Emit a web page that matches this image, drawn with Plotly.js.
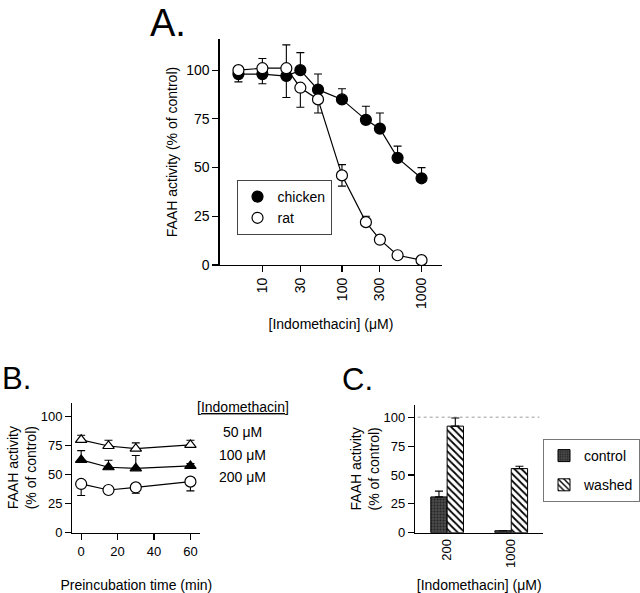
<!DOCTYPE html>
<html>
<head>
<meta charset="utf-8">
<script src="https://cdn.plot.ly/plotly-3.0.1.min.js"></script>
<style>
  html, body { margin: 0; padding: 0; background: #fff; }
  #plot { width: 640px; height: 593px; }
</style>
</head>
<body>
<div id="plot"></div>
<script>
// Panel A: concentration response (log x)
var concA = [5, 10, 20, 30, 50, 100, 200, 300, 500, 1000];
var chicken = [98, 98, 97, 100, 90, 85, 74.5, 70, 55, 44.5];
var chickenErrUp = [0, 0, 0, 9, 8, 5.5, 7, 8, 6, 5.5];
var chickenErrDown = [4, 5, 11, 0, 0, 0, 0, 0, 0, 0];
var rat = [100, 101, 101, 91, 85, 46, 22, 13, 5, 2.5];
var ratErrUp = [0, 5, 12, 0, 0, 5.5, 3, 0, 0, 0];
var ratErrDown = [0, 0, 0, 10, 7, 5.5, 0, 0, 0, 0];
var concTicks = [10, 30, 100, 300, 1000];

// Panel B: preincubation time course
var timeB = [0, 15, 30, 60];
var b50 = [80, 74.7, 72.4, 75.6];
var b50Err = [4, 5, 5, 4];
var b100 = [62.7, 56.4, 55.5, 57.5];
var b100Err = [8, 6, 11, 2];
var b200 = [42, 36.8, 39, 44];
var b200Err = [10, 0, 5, 8];
var timeTicks = [0, 20, 40, 60];

// Panel C: washout
var concC = ["200", "1000"];
var control = [31, 1.7];
var controlErr = [5, 0];
var washed = [92.3, 55.5];
var washedErr = [7, 2];
var controlLevel = 100;

var pctTicks = [0, 25, 50, 75, 100];
var fontName = "Liberation Sans, Arial, sans-serif";

function errBar(up, down) {
    return {
        type: "data", symmetric: false, array: up, arrayminus: down,
        color: "black", thickness: 1.1, width: 4,
    };
}

function lineTrace(x, y, err, sym, fill, xa, ya, size) {
    return {
        x: x, y: y, xaxis: xa, yaxis: ya,
        mode: "lines+markers", type: "scatter", showlegend: false,
        line: { color: "black", width: 1.2 },
        marker: { symbol: sym, size: size, color: fill, line: { color: "black", width: 1.2 } },
        error_y: err,
        cliponaxis: false,
    };
}

var zeros4 = [0, 0, 0, 0];

var data = [
    lineTrace(concA, chicken, errBar(chickenErrUp, chickenErrDown), "circle", "black", "x", "y", 11),
    lineTrace(concA, rat, errBar(ratErrUp, ratErrDown), "circle", "white", "x", "y", 11),
    // legend entries for A (markers only)
    { x: [null], y: [null], mode: "markers", type: "scatter", name: "chicken", legend: "legend",
      legendgroup: "ch", marker: { symbol: "circle", size: 11, color: "black", line: { color: "black", width: 1.2 } } },
    { x: [null], y: [null], mode: "markers", type: "scatter", name: "rat", legend: "legend",
      legendgroup: "rt", marker: { symbol: "circle", size: 11, color: "white", line: { color: "black", width: 1.2 } } },

    lineTrace(timeB, b50, errBar(b50Err, zeros4), "triangle-up", "white", "x2", "y2", 10),
    lineTrace(timeB, b100, errBar(b100Err, zeros4), "triangle-up", "black", "x2", "y2", 10),
    lineTrace(timeB, b200, errBar(zeros4, b200Err), "circle", "white", "x2", "y2", 11),

    {
        x: concC, y: control, type: "bar", name: "control", xaxis: "x3", yaxis: "y3",
        legend: "legend2", legendgroup: "ctl",
        marker: { color: "#3d3d3d", line: { color: "black", width: 1 },
                  pattern: { shape: ".", fgcolor: "#222", bgcolor: "#4a4a4a", size: 3, solidity: 0.3 } },
        error_y: { type: "data", symmetric: false, array: controlErr, arrayminus: [0, 0],
                   color: "black", thickness: 1.1, width: 4 },
    },
    {
        x: concC, y: washed, type: "bar", name: "washed", xaxis: "x3", yaxis: "y3",
        legend: "legend2", legendgroup: "wsh",
        marker: { color: "white", line: { color: "black", width: 1 },
                  pattern: { shape: "\\", fgcolor: "black", bgcolor: "white", size: 5, solidity: 0.35 } },
        error_y: { type: "data", symmetric: false, array: washedErr, arrayminus: [0, 0],
                   color: "black", thickness: 1.1, width: 4 },
    },
];

function axStyle(extra) {
    var base = {
        showline: true, linecolor: "black", linewidth: 1.2,
        ticks: "outside", ticklen: 6, tickcolor: "black", tickwidth: 1.1,
        showgrid: false, zeroline: false, fixedrange: true,
        tickfont: { family: fontName, size: 13, color: "black" },
    };
    return Object.assign(base, extra);
}

var titleFont = { family: fontName, size: 14, color: "black" };

var layout = {
    width: 640, height: 593,
    margin: { l: 0, r: 0, t: 0, b: 0 },
    paper_bgcolor: "white", plot_bgcolor: "white",
    font: { family: fontName, color: "black" },
    barmode: "group", bargap: 0.49, bargroupgap: 0,

    xaxis: axStyle({
        type: "log", domain: [221 / 640, 445 / 640], anchor: "y",
        range: [Math.log10(2.9), Math.log10(1820)],
        tickvals: concTicks, ticktext: concTicks.map(String), tickangle: -90,
        tickfont: { family: fontName, size: 14, color: "black" },
        title: { text: "[Indomethacin] (μM)", font: titleFont, standoff: 11 },
    }),
    yaxis: axStyle({
        domain: [1 - 265 / 593, 1 - 39 / 593], anchor: "x",
        range: [0, 116], tickvals: pctTicks,
        tickfont: { family: fontName, size: 14, color: "black" },
        title: { text: "FAAH activity (% of control)", font: titleFont, standoff: 5 },
    }),

    xaxis2: axStyle({
        domain: [72.7 / 640, 201.7 / 640], anchor: "y2",
        range: [-4.9, 65.5], tickvals: timeTicks,
        title: { text: "Preincubation time (min)", font: titleFont, standoff: 25 },
    }),
    yaxis2: axStyle({
        domain: [1 - 532.7 / 593, 1 - 402.7 / 593], anchor: "x2",
        range: [0, 112], tickvals: pctTicks,
        title: { text: "FAAH activity<br>(% of control)", font: titleFont, standoff: 0 },
    }),

    xaxis3: axStyle({
        type: "category", domain: [417.7 / 640, 546.7 / 640], anchor: "y3",
        range: [-0.5, 1.5], tickangle: -90, ticks: "",
        title: { text: "[Indomethacin] (μM)", font: titleFont, standoff: 13 },
    }),
    yaxis3: axStyle({
        domain: [1 - 532.7 / 593, 1 - 405 / 593], anchor: "x3",
        range: [0, 110.6], tickvals: pctTicks,
        title: { text: "FAAH activity<br>(% of control)", font: titleFont, standoff: 0 },
    }),

    legend: {
        x: 238 / 640, y: 1 - 180 / 593, xanchor: "left", yanchor: "top",
        bordercolor: "#444", borderwidth: 1, bgcolor: "white",
        font: { family: fontName, size: 14, color: "black" },
        tracegroupgap: 0, itemwidth: 30,
    },
    legend2: {
        x: 546.7 / 640, y: 1 - 439 / 593, xanchor: "left", yanchor: "top",
        bordercolor: "#777", borderwidth: 1, bgcolor: "white",
        font: { family: fontName, size: 14, color: "black" },
        tracegroupgap: 8, itemwidth: 30,
    },

    shapes: [
        { type: "line", xref: "x3 domain", yref: "y3", x0: 0.02, x1: 0.97,
          y0: controlLevel, y1: controlLevel, layer: "below",
          line: { color: "#bdbdbd", width: 1.5, dash: "dot" } },
    ],

    annotations: [
        { text: "A.", xref: "paper", yref: "paper", x: 150 / 640, y: 1 - 23 / 593,
          xanchor: "left", yanchor: "middle", showarrow: false, borderpad: 0,
          font: { family: fontName, size: 38, color: "black" } },
        { text: "B.", xref: "paper", yref: "paper", x: 1 / 640, y: 1 - 378 / 593,
          xanchor: "left", yanchor: "middle", showarrow: false, borderpad: 0,
          font: { family: fontName, size: 31, color: "black" } },
        { text: "C.", xref: "paper", yref: "paper", x: 343 / 640, y: 1 - 379 / 593,
          xanchor: "left", yanchor: "middle", showarrow: false, borderpad: 0,
          font: { family: fontName, size: 31, color: "black" } },
        { text: "<u>[Indomethacin]</u>", xref: "paper", yref: "paper", x: 245 / 640, y: 1 - 417 / 593,
          showarrow: false, font: { family: fontName, size: 14, color: "black" } },
        { text: "50 μM", xref: "paper", yref: "paper", x: 244 / 640, y: 1 - 442 / 593,
          showarrow: false, font: { family: fontName, size: 14, color: "black" } },
        { text: "100 μM", xref: "paper", yref: "paper", x: 244 / 640, y: 1 - 465 / 593,
          showarrow: false, font: { family: fontName, size: 14, color: "black" } },
        { text: "200 μM", xref: "paper", yref: "paper", x: 244 / 640, y: 1 - 487 / 593,
          showarrow: false, font: { family: fontName, size: 14, color: "black" } },
    ],
};

Plotly.newPlot("plot", data, layout, { displayModeBar: false, staticPlot: true });
</script>
</body>
</html>
